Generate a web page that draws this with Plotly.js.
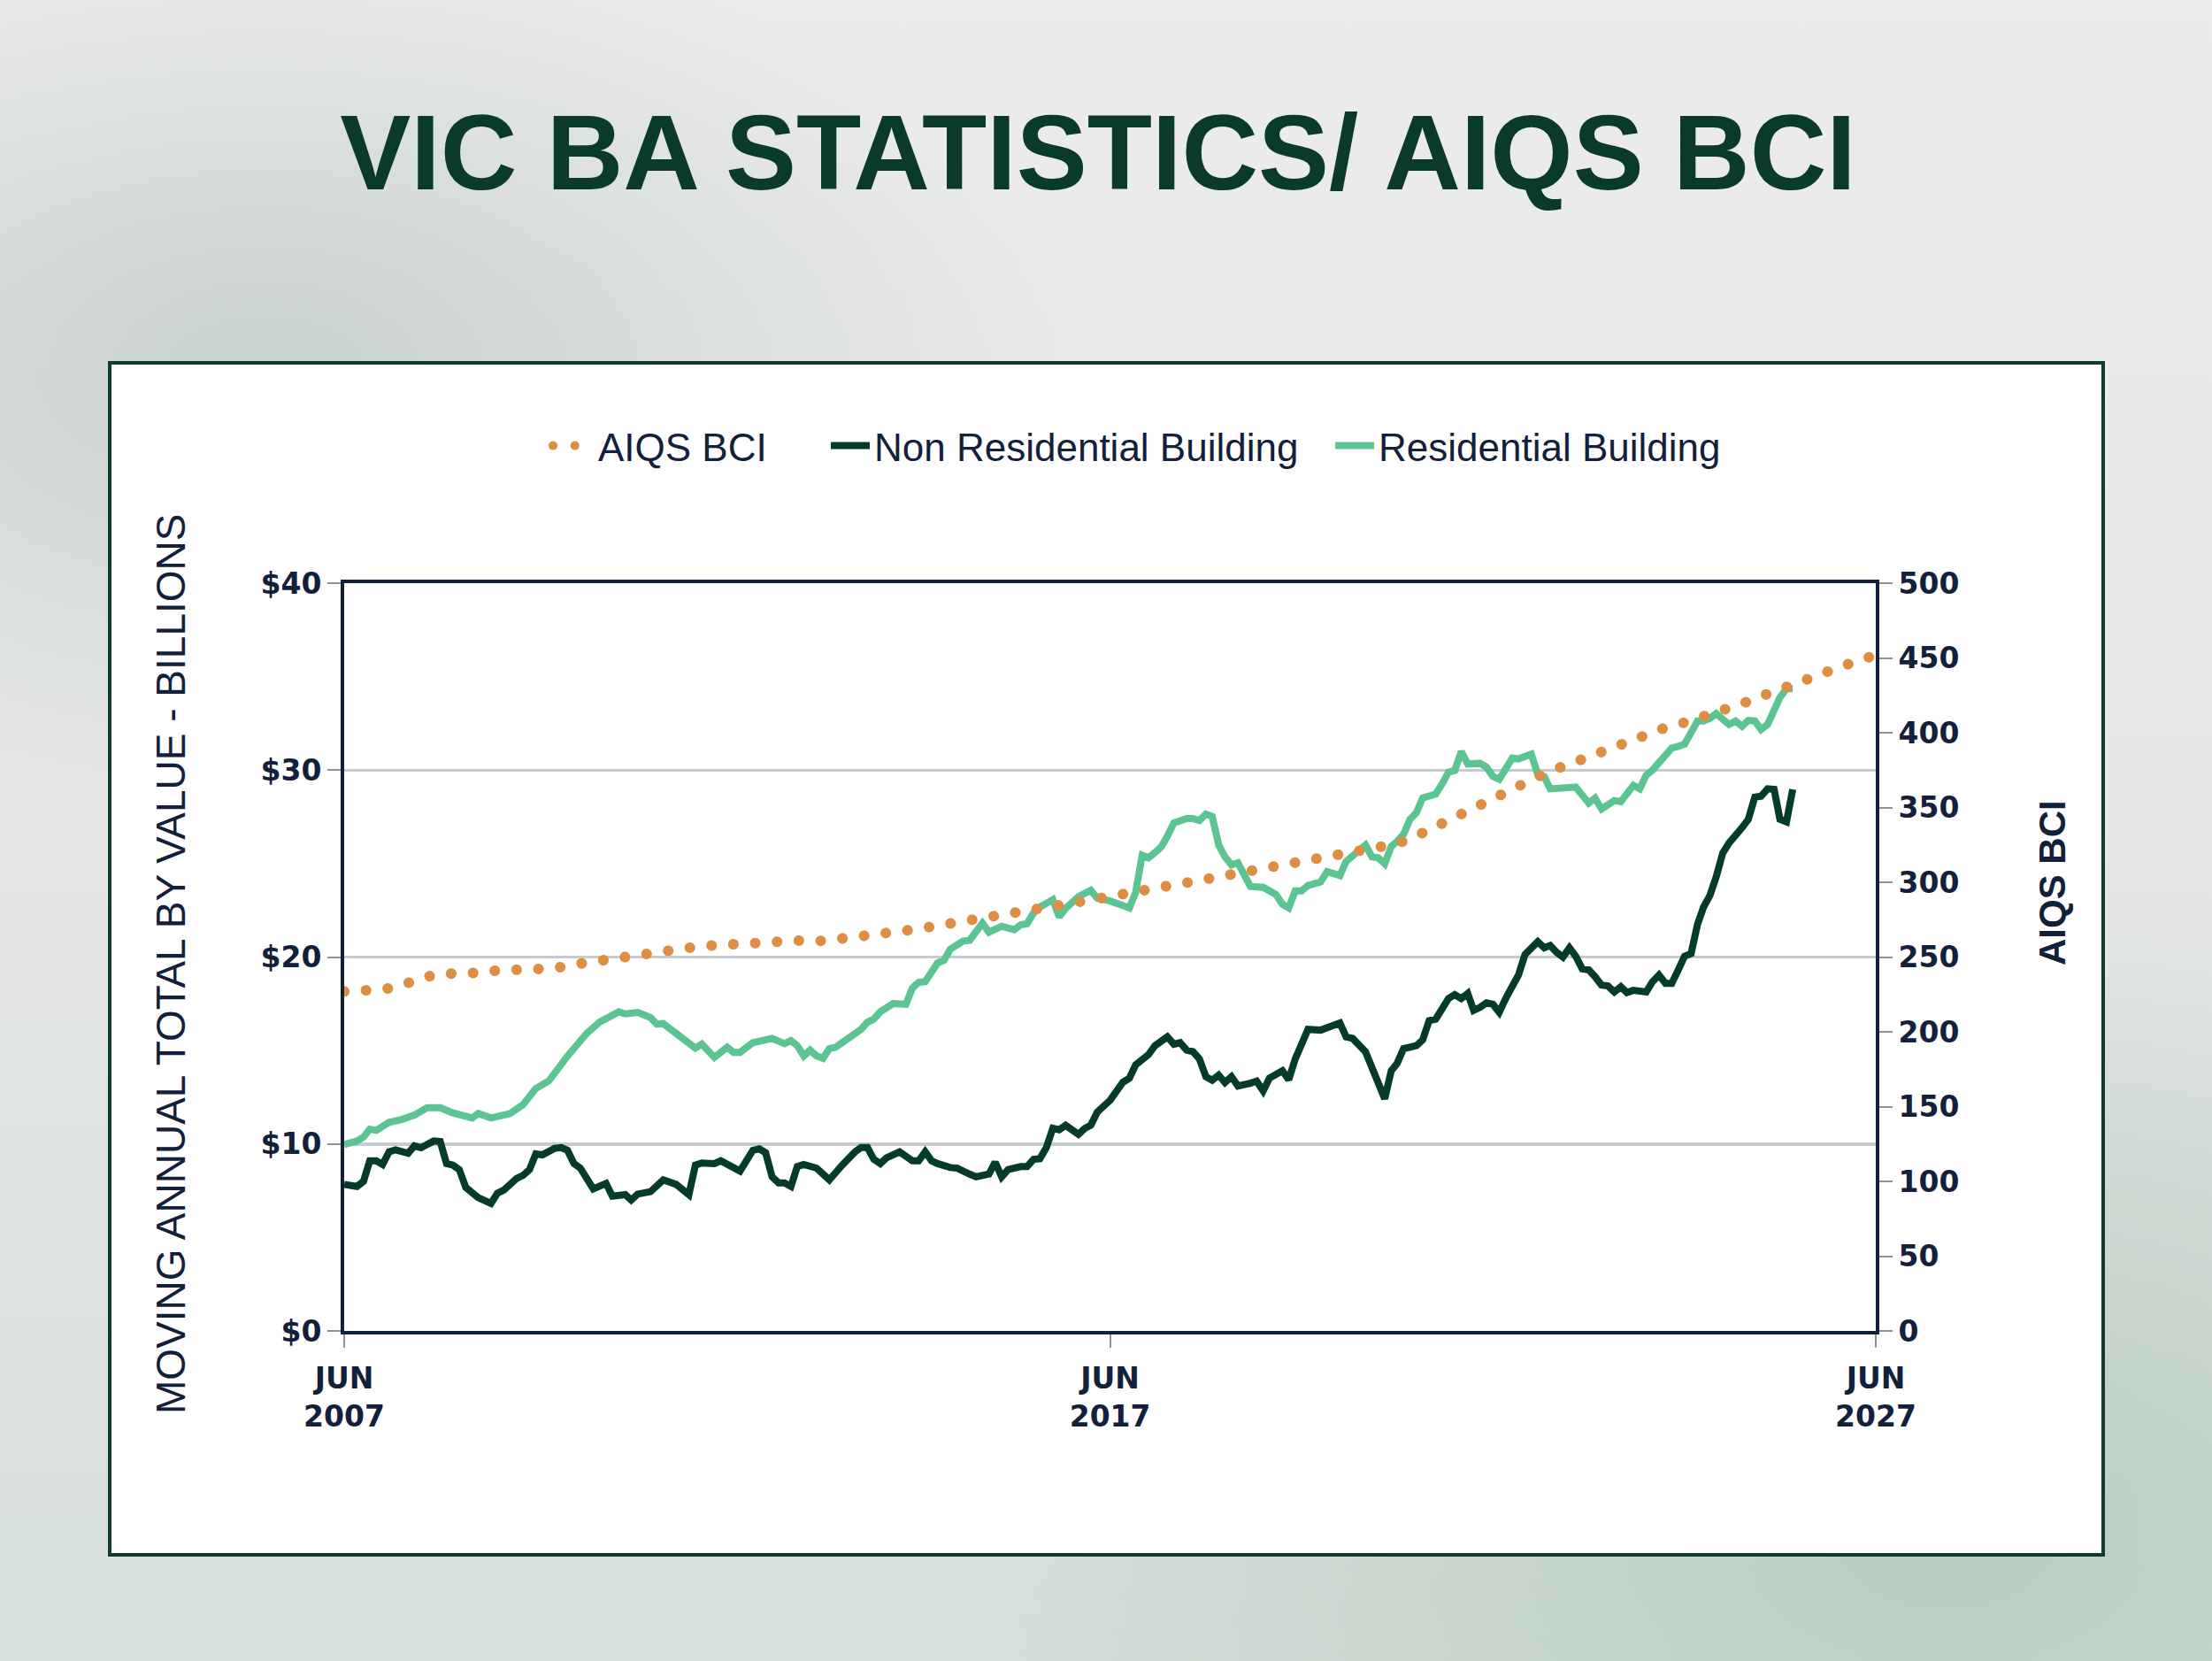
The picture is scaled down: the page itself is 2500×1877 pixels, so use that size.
<!DOCTYPE html>
<html>
<head>
<meta charset="utf-8">
<script src="https://cdn.plot.ly/plotly-3.0.1.min.js"></script>
<style>
  html, body { margin: 0; padding: 0; }
  body {
    width: 2500px; height: 1877px; overflow: hidden;
    background:
      radial-gradient(ellipse 900px 500px at 12% 22%, rgba(190,202,200,0.75) 0%, rgba(190,202,200,0) 100%),
      radial-gradient(ellipse 1100px 700px at 88% 92%, rgba(178,200,186,0.8) 0%, rgba(178,200,186,0) 100%),
      linear-gradient(180deg, #ececec 0%, #e6e7e7 45%, #d6dfda 100%);
  }
  #chart { width: 2500px; height: 1877px; }
</style>
</head>
<body>
<div id="chart"></div>
<script>
// months counted from Jun 2007
const nonResMonths = [0,2,3,4,5,6,7,8,10,11,12,14,15,16,17,18,19,21,23,24,25,27,28,29,30,31,33,34,35,36,37,39,41,42,44,45,46,48,50,52,54,55,56,58,59,61,62,64,65,66,67,68,69,70,71,72,74,76,77,78,80,81,82,83,84,85,87,89,90,91,92,93,95,96,98,99,101,102,103,104,106,107,108,109,110,111,112,113,115,116,117,118,120,121,122,123,124,126,127,129,130,131,132,133,134,135,136,137,138,139,140,142,143,144,145,147,148,149,150,151,153,155,156,157,158,160,161,162,163,164,165,166,168,169,170,171,172,173,174,175,176,177,178,179,180,181,182,183,184,185,186,187,188,189,190,191,192,193,194,195,196,197,198,199,200,201,202,204,205,206,207,208,209,210,211,212,213,214,215,216,217,218,219,220,221,222,223,224,225,226,227];
const nonResValues = [7.84,7.73,8.0,9.1,9.1,8.9,9.58,9.69,9.5,9.9,9.8,10.16,10.13,8.95,8.87,8.63,7.68,7.13,6.82,7.37,7.53,8.16,8.32,8.63,9.47,9.42,9.77,9.81,9.66,8.95,8.71,7.6,7.89,7.21,7.29,7.0,7.32,7.45,8.08,7.84,7.29,8.87,8.98,8.95,9.1,8.79,8.55,9.66,9.74,9.53,8.24,7.92,7.92,7.73,8.79,8.9,8.71,8.08,8.55,8.87,9.58,9.81,9.81,9.18,8.95,9.26,9.58,9.1,9.1,9.58,9.1,8.95,8.74,8.71,8.39,8.24,8.39,9.03,8.24,8.63,8.79,8.79,9.18,9.21,9.81,10.84,10.76,11.0,10.52,10.84,11.0,11.71,12.34,12.9,13.3,13.52,14.23,14.78,15.26,15.73,15.34,15.42,15.02,14.94,14.55,13.6,13.41,13.68,13.29,13.6,13.1,13.25,13.36,12.84,13.52,13.92,13.44,14.55,15.42,16.13,16.09,16.36,16.47,15.73,15.65,14.94,14.15,13.36,12.42,13.92,14.31,15.1,15.26,15.57,16.6,16.68,17.23,17.78,17.99,17.78,18.05,17.15,17.31,17.55,17.47,17.04,17.78,18.34,19.04,20.13,20.49,20.82,20.49,20.62,20.25,20.0,20.49,20.04,19.37,19.31,18.95,18.5,18.46,18.13,18.41,18.1,18.22,18.13,18.68,19.04,18.59,18.59,19.31,20.04,20.18,21.76,22.66,23.3,24.29,25.56,26.1,26.47,26.92,27.37,28.55,28.6,29.0,28.97,27.37,27.23,28.97];

const resMonths = [0,2,3,4,5,7,9,11,13,15,17,20,21,23,26,28,30,32,35,38,40,43,44,46,48,49,50,52,53,55,56,58,60,61,62,64,66,67,69,70,71,72,73,74,75,76,77,79,81,82,83,84,86,88,89,90,91,93,94,95,96,97,98,100,101,103,105,106,107,108,109,111,112,113,115,117,118,119,120,123,124,125,126,127,128,129,130,132,133,134,135,136,137,138,139,140,141,142,144,146,147,148,149,150,151,153,154,156,157,159,160,161,162,163,164,165,166,167,168,169,171,172,173,174,175,176,178,179,180,181,182,183,184,186,187,188,189,191,193,195,196,197,199,200,202,203,204,205,207,208,209,210,212,213,214,215,217,218,219,220,221,222,223,225,226,227];
const resValues = [9.97,10.16,10.37,10.79,10.73,11.16,11.31,11.55,11.94,11.94,11.66,11.39,11.63,11.39,11.63,12.1,12.97,13.37,14.7,15.92,16.52,17.07,16.96,17.04,16.76,16.41,16.44,15.89,15.62,15.13,15.34,14.63,15.18,14.9,14.9,15.42,15.57,15.65,15.37,15.53,15.26,14.71,15.02,14.71,14.58,15.1,15.18,15.65,16.13,16.52,16.68,17.07,17.51,17.47,18.34,18.65,18.68,19.68,19.83,20.42,20.62,20.86,20.89,21.81,21.33,21.65,21.46,21.73,21.78,22.36,22.67,23.07,22.15,22.6,23.23,23.57,23.15,23.12,23.0,22.63,23.46,25.44,25.31,25.59,25.91,26.46,27.17,27.41,27.41,27.3,27.65,27.52,25.99,25.36,24.93,25.04,24.41,23.78,23.73,23.35,22.83,22.63,23.54,23.54,23.83,24.02,24.57,24.36,25.12,25.75,25.99,25.36,25.31,24.99,25.91,26.19,26.57,27.36,27.72,28.51,28.72,29.25,29.89,29.98,30.99,30.33,30.36,30.17,29.66,29.51,30.09,30.64,30.6,30.85,29.76,29.64,29.0,29.0,29.09,28.24,28.5,27.92,28.37,28.31,29.18,29.0,29.73,30.0,30.72,31.18,31.27,31.39,32.63,32.63,32.77,33.02,32.44,32.63,32.35,32.66,32.63,32.17,32.44,33.89,34.35,34.35];

// AIQS BCI, quarterly from Jun 2007 to Jun 2027
const bciValues = [227,227.5,228.3,231,236,238.7,238.6,239.5,241,241,241,242.5,245,247,249,251.6,253.5,254.7,256.2,257.6,258.5,259.4,260.4,261.4,261.2,260.8,262.1,264,265.3,267.2,268.8,271,273.4,275.4,277.4,279.6,281.8,283.8,286.1,288.2,291,293.3,295.3,297.5,299.7,302,304.2,306.6,309,311.4,313.6,315.7,318.2,320.7,323,325.8,331,337.5,343.2,348.9,355.7,362.9,369.8,374.5,379,383.8,389.5,394.5,399.4,403.4,406.8,410.6,414,419.4,424.4,428.6,433.6,438.5,443.5,448.5,452];

const xTickVals = ['2007-06-01', '2017-06-01', '2027-06-01'];
const xTickText = ['JUN<br>2007', 'JUN<br>2017', 'JUN<br>2027'];
const leftTicks = [0, 10, 20, 30, 40];
const leftTickText = ['$0', '$10', '$20', '$30', '$40'];
const rightTicks = [0, 50, 100, 150, 200, 250, 300, 350, 400, 450, 500];

function monthToDate(m) {
  const t = 5 + m;
  const y = 2007 + Math.floor(t / 12);
  const mo = (t % 12) + 1;
  return y + '-' + String(mo).padStart(2, '0') + '-01';
}

const NAVY = '#13203b';
const TICK_FONT = {family: 'DejaVu Sans', size: 33, color: NAVY, weight: 'bold'};
const LEGEND_FONT = {family: 'Liberation Sans', size: 44, color: NAVY};

const bci = {
  name: 'AIQS BCI',
  x: bciValues.map((v, i) => monthToDate(i * 3)),
  y: bciValues,
  yaxis: 'y2',
  mode: 'lines',
  legend: 'legend',
  line: {color: '#dd8e42', width: 12, dash: '0.1px,24.6px'},
  hoverinfo: 'skip'
};
const nonRes = {
  name: 'Non Residential Building',
  x: nonResMonths.map(monthToDate),
  y: nonResValues,
  mode: 'lines',
  legend: 'legend2',
  line: {color: '#053b2b', width: 8},
  hoverinfo: 'skip'
};
const res = {
  name: 'Residential Building',
  x: resMonths.map(monthToDate),
  y: resValues,
  mode: 'lines',
  legend: 'legend3',
  line: {color: '#5cc392', width: 8},
  hoverinfo: 'skip'
};

function legendAt(px, itemWidth) {
  return {
    orientation: 'h', xref: 'container', yref: 'container',
    x: px / 2500, y: 1 - 504 / 1877, xanchor: 'left', yanchor: 'middle',
    itemwidth: itemWidth,
    bgcolor: 'rgba(0,0,0,0)', font: LEGEND_FONT
  };
}

const layout = {
  width: 2500,
  height: 1877,
  margin: {l: 389, r: 380, t: 659, b: 373},
  paper_bgcolor: 'rgba(0,0,0,0)',
  plot_bgcolor: '#ffffff',
  showlegend: true,
  title: {
    text: 'VIC BA STATISTICS/ AIQS BCI',
    xref: 'container', yref: 'container',
    x: 1241 / 2500, y: 1 - 172 / 1877, xanchor: 'center', yanchor: 'middle',
    font: {family: 'Liberation Sans', size: 120, color: '#0a3a2b', weight: 'bold'}
  },
  legend: legendAt(620, 46),
  legend2: legendAt(934, 44),
  legend3: legendAt(1504, 44),
  xaxis: {
    type: 'date',
    range: ['2007-06-01', '2027-06-01'],
    tickvals: xTickVals,
    ticktext: xTickText,
    tickfont: TICK_FONT,
    ticklabelstandoff: 6,
    showgrid: false,
    zeroline: false,
    showline: true, mirror: true, linecolor: NAVY, linewidth: 4,
    ticks: 'outside', ticklen: 15, tickwidth: 2, tickcolor: '#8d929a'
  },
  yaxis: {
    range: [0, 40],
    tickvals: leftTicks,
    ticktext: leftTickText,
    tickfont: TICK_FONT,
    showgrid: true, gridcolor: '#c5cbd1', gridwidth: 3.5,
    zeroline: false,
    showline: true, linecolor: NAVY, linewidth: 4,
    ticks: 'outside', ticklen: 15, tickwidth: 2, tickcolor: '#8d929a'
  },
  yaxis2: {
    range: [0, 500],
    overlaying: 'y',
    side: 'right',
    tickvals: rightTicks,
    tickfont: TICK_FONT,
    showgrid: false,
    zeroline: false,
    showline: true, linecolor: NAVY, linewidth: 4,
    ticks: 'outside', ticklen: 15, tickwidth: 2, tickcolor: '#8d929a'
  },
  shapes: [{
    type: 'rect', layer: 'below', xref: 'paper', yref: 'paper',
    x0: (124 - 389) / 1731, x1: (2377 - 389) / 1731,
    y0: (1504 - 1757) / 845, y1: (1504 - 410) / 845,
    fillcolor: '#ffffff', line: {color: '#0e3d2d', width: 4}
  }],
  annotations: [
    {
      text: 'MOVING ANNUAL TOTAL BY VALUE - BILLIONS',
      xref: 'paper', yref: 'paper',
      x: (193 - 389) / 1731, y: (1504 - 1090) / 845,
      xanchor: 'center', yanchor: 'middle', textangle: -90, showarrow: false,
      font: {family: 'Liberation Sans', size: 46, color: NAVY}
    },
    {
      text: 'AIQS BCI',
      xref: 'paper', yref: 'paper',
      x: (2319 - 389) / 1731, y: (1504 - 998) / 845,
      xanchor: 'center', yanchor: 'middle', textangle: -90, showarrow: false,
      font: {family: 'Liberation Sans', size: 42, color: NAVY, weight: 'bold'}
    }
  ]
};

Plotly.newPlot('chart', [bci, nonRes, res], layout, {staticPlot: true}).then(() => {
  // round caps turn the dash pattern into dots
  document.querySelectorAll('path.js-line').forEach(p => {
    if (p.style.strokeDasharray && p.style.strokeDasharray !== 'none') {
      p.style.strokeLinecap = 'round';
    }
  });
});
</script>
</body>
</html>
